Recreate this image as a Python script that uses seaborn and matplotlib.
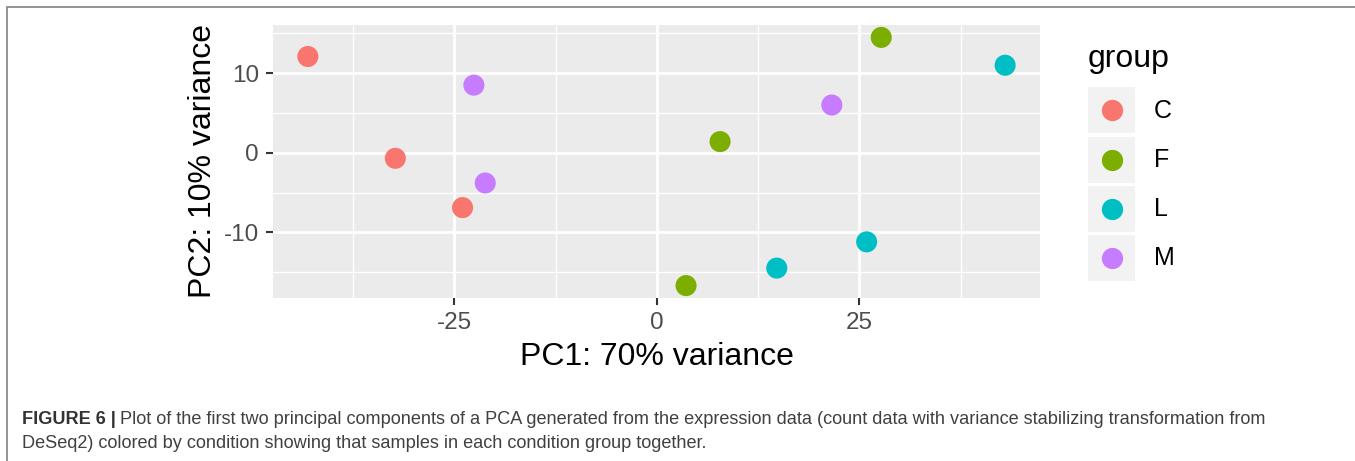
import matplotlib
matplotlib.use("Agg")
import matplotlib.pyplot as plt
from matplotlib.patches import Rectangle
from matplotlib.lines import Line2D
from matplotlib.ticker import MultipleLocator
import pandas as pd
import seaborn as sns

# PCA scores
group = ["C", "C", "C", "M", "M", "M", "F", "F", "F", "L", "L", "L"]
pc1 = [-43.1, -32.3, -24.0, -22.6, -21.2, 21.6, 7.8, 3.6, 27.7, 43.0, 25.9, 14.8]
pc2 = [12.1, -0.7, -6.9, 8.5, -3.8, 6.0, 1.4, -16.7, 14.5, 11.0, -11.2, -14.5]
levels = ["C", "F", "L", "M"]
colors = ["#F8766D", "#7CAE00", "#00BFC4", "#C77CFF"]
x_ticks = [-25, 0, 25]
y_ticks = [-10, 0, 10]

df = pd.DataFrame({"PC1": pc1, "PC2": pc2, "group": group})
pal = dict(zip(levels, colors))

sns.set_theme(style="white")
plt.rcParams["font.family"] = ["Liberation Sans", "DejaVu Sans"]
plt.rcParams["axes.unicode_minus"] = False

W, H = 1355, 461
fig = plt.figure(figsize=(W / 100, H / 100), dpi=100)
ax = fig.add_axes([273 / W, 1 - 298 / H, (1040 - 273) / W, (298 - 25) / H])

sns.scatterplot(data=df, x="PC1", y="PC2", hue="group", hue_order=levels,
                palette=pal, s=230, linewidth=0, legend=False, ax=ax, zorder=3)

# ggplot-like expansion of 5%
xr = max(pc1) - min(pc1)
yr = max(pc2) - min(pc2)
ax.set_xlim(min(pc1) - 0.05 * xr, max(pc1) + 0.05 * xr)
ax.set_ylim(min(pc2) - 0.05 * yr, max(pc2) + 0.05 * yr)

ax.set_facecolor("#EBEBEB")
for s in ax.spines.values():
    s.set_visible(False)
ax.set_xticks(x_ticks)
ax.set_yticks(y_ticks)
ax.xaxis.set_minor_locator(MultipleLocator(12.5))
ax.yaxis.set_minor_locator(MultipleLocator(5))
ax.grid(which="major", color="white", linewidth=2.0, zorder=0)
ax.grid(which="minor", color="white", linewidth=1.0, zorder=0)
ax.set_axisbelow(True)
ax.tick_params(which="major", direction="out", length=5, width=1.5,
               color="#333333", labelsize=17.5, labelcolor="#4D4D4D", pad=5,
               bottom=True, left=True)
ax.tick_params(which="minor", length=0)
ax.set_xlabel("PC1: 70% variance", fontsize=23, color="black", labelpad=6)
ax.set_ylabel("PC2: 10% variance", fontsize=23, color="black", labelpad=4)

# legend, ggplot style
fig.text(1088 / W, 1 - 67 / H, "group", fontsize=23, color="black",
         ha="left", va="baseline")
for i, (lev, col) in enumerate(zip(levels, colors)):
    top = 87.5 + i * 49.2
    fig.add_artist(Rectangle((1088 / W, 1 - (top + 46) / H), 47 / W, 46 / H,
                             transform=fig.transFigure, facecolor="#F2F2F2",
                             edgecolor="none"))
    fig.add_artist(Line2D([1111.5 / W], [1 - (top + 23) / H], marker="o",
                          markersize=15.3, markerfacecolor=col,
                          markeredgewidth=0, linestyle="none",
                          transform=fig.transFigure))
    fig.text(1154 / W, 1 - (top + 23) / H, lev, fontsize=18, color="black",
             ha="left", va="center")

# frame around the figure panel
fig.add_artist(Rectangle((7 / W, -0.05), 1.1, 1.05 - 7.5 / H,
                         transform=fig.transFigure, facecolor="none",
                         edgecolor="#808080", linewidth=1.2))

# caption
cap_font = ["Liberation Sans", "DejaVu Sans"]
cap_size = 13.1
t1 = fig.text(22 / W, 1 - 424 / H, "FIGURE 6 |", fontsize=cap_size,
              fontweight="bold", color="#333333", family=cap_font,
              ha="left", va="baseline")
fig.canvas.draw()
bb = t1.get_window_extent()
fig.text((bb.x1 + 4) / W, 1 - 424 / H,
         "Plot of the first two principal components of a PCA generated from the "
         "expression data (count data with variance stabilizing transformation from",
         fontsize=cap_size, color="#404040", family=cap_font,
         ha="left", va="baseline")
fig.text(22 / W, 1 - 448 / H,
         "DeSeq2) colored by condition showing that samples in each condition group together.",
         fontsize=cap_size, color="#404040", family=cap_font,
         ha="left", va="baseline")

fig.savefig("out.png", dpi=100)
